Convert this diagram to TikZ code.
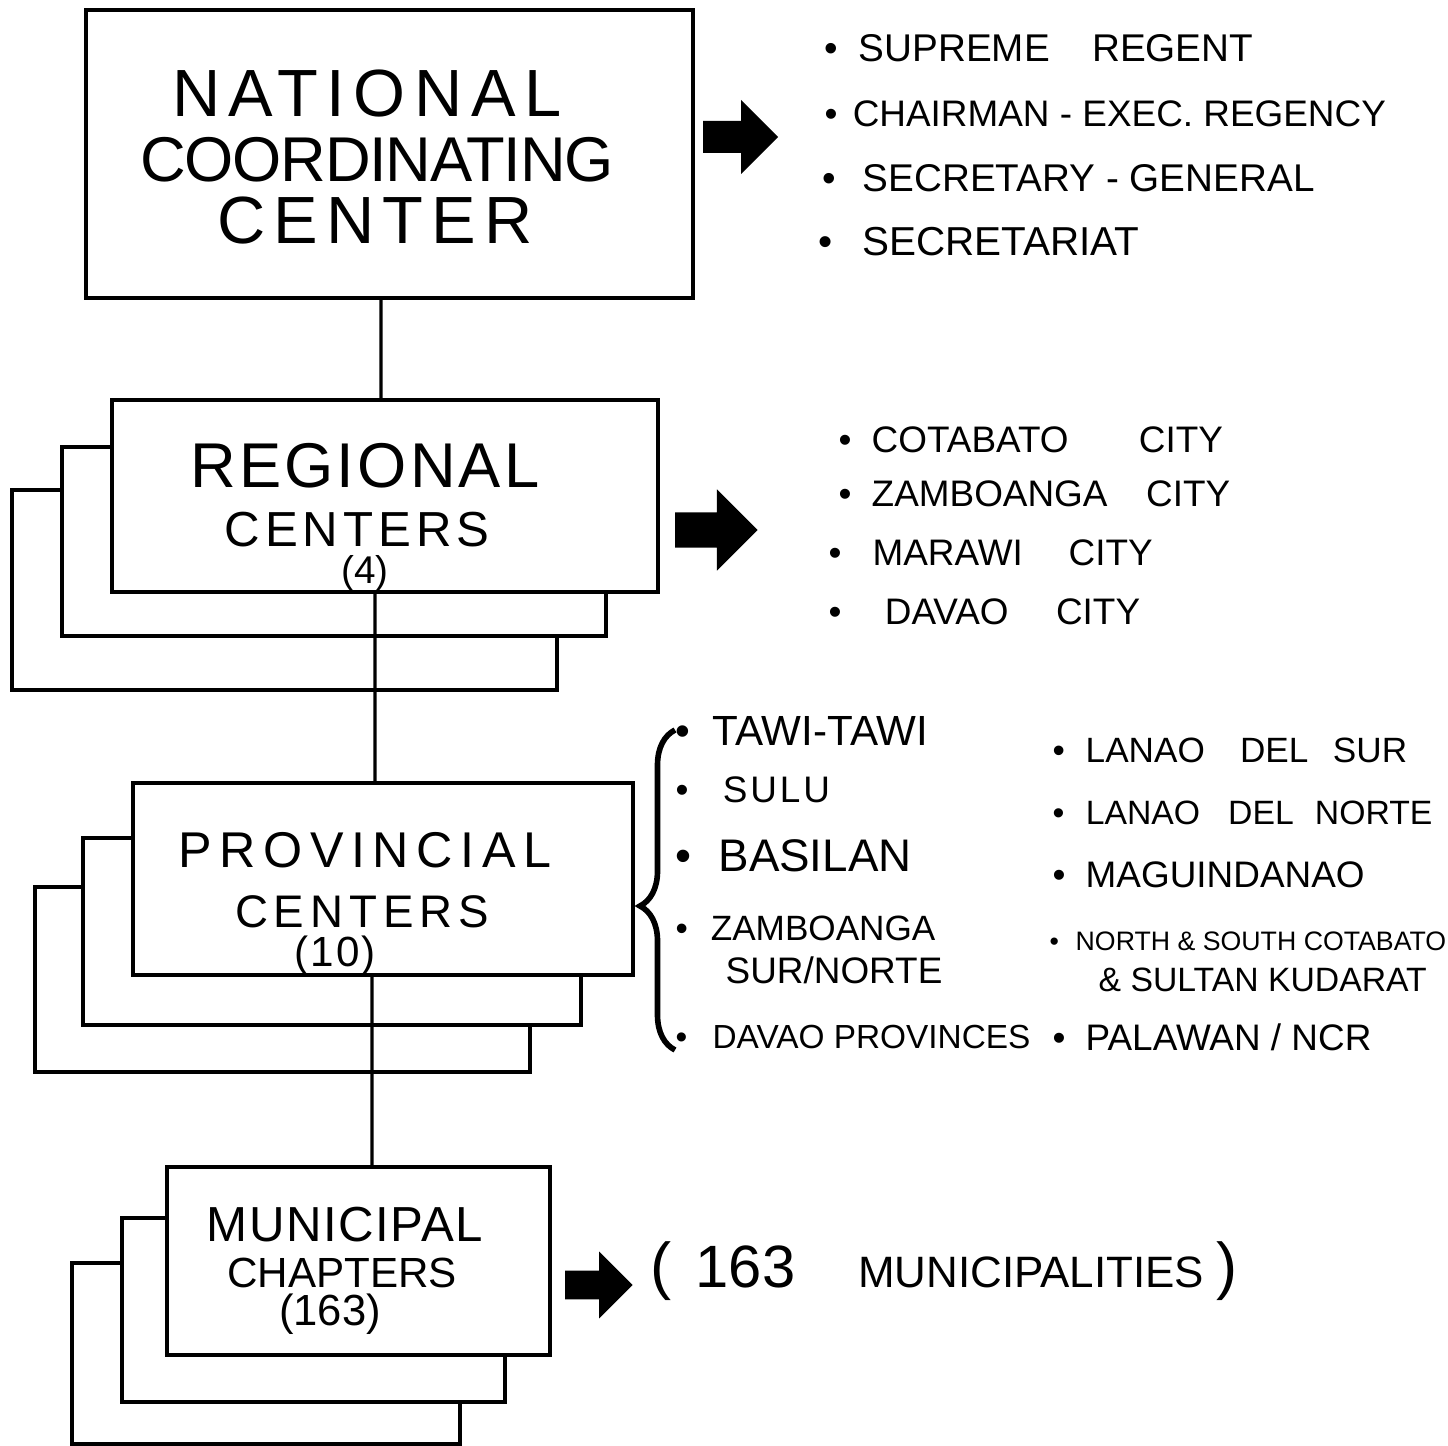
\documentclass[tikz,border=0pt]{standalone}
\usepackage{fontspec}
\setmainfont{Liberation Sans}
\usetikzlibrary{positioning,decorations.pathreplacing}

\newcommand\fsz[1]{\fontsize{#1}{#1}\selectfont}
\newcommand\spaced[2]{{\addfontfeature{LetterSpace=#1}#2}}
\newcommand\bul[1]{\makebox[#1][l]{•}}

\begin{document}
\begin{tikzpicture}[x=0.1mm,y=-0.1mm,
                    box/.style={draw,fill=white,line width=1.2pt,inner sep=0pt},
                    title/.style={anchor=base,inner sep=0pt},
                    item/.style={anchor=base west,inner sep=0pt},
                    link/.style={line width=0.9pt},
                    fatarrow/.pic={\fill (0,-16) -- (38,-16) -- (38,-37) -- (75,0) -- (38,37) -- (38,16) -- (0,16) -- cycle;}]

\useasboundingbox (0,0) rectangle (1448,1446);

\node[box, minimum width=60.7mm, minimum height=28.8mm] (national) at (389.5,154) {};

\node[box, minimum width=54.5mm, minimum height=20mm] (regional3) at (284.5,590) {};
\node[box, minimum width=54.4mm, minimum height=18.9mm] (regional2) at (334,541.5) {};
\node[box, minimum width=54.6mm, minimum height=19.2mm] (regional) at (385,496) {};

\node[box, minimum width=49.5mm, minimum height=18.5mm] (provincial3) at (282.5,979.5) {};
\node[box, minimum width=49.8mm, minimum height=18.7mm] (provincial2) at (332,931.5) {};
\node[box, minimum width=50mm, minimum height=19.2mm] (provincial) at (383,879) {};

\node[box, minimum width=38.8mm, minimum height=18.1mm] (municipal3) at (266,1353.5) {};
\node[box, minimum width=38.3mm, minimum height=18.4mm] (municipal2) at (313.5,1310) {};
\node[box, minimum width=38.3mm, minimum height=18.8mm] (municipal) at (358.5,1261) {};

\draw[link] ([xshift=-0.85mm]national.south) -- ([xshift=-0.4mm]regional.north);
\draw[link] ([xshift=-1mm]regional.south) -- ([xshift=-0.8mm]provincial.north);
\draw[link] ([xshift=-1.1mm]provincial.south) -- ([xshift=1.35mm]municipal.north);

\node[title, font=\fsz{19}] (nat1) at (367,117) {\spaced{13}{NATIONAL}};
\node[title, font=\fsz{18}] (nat2) at (377,182) {\spaced{-2}{COORDINATING}};
\node[title, font=\fsz{19}] (nat3) at (375,244) {\spaced{12}{CENTER}};

\node[title, font=\fsz{18}] (reg1) at (365,488) {\spaced{5}{REGIONAL}};
\node[title, font=\fsz{14}] (reg2) at (357,547) {\spaced{10}{CENTERS}};
\node[title, font=\fsz{11}] (reg3) at (365,584) {(4)};

\node[title, font=\fsz{14.3}] (prov1) at (365,868) {\spaced{15}{PROVINCIAL}};
\node[title, font=\fsz{13}] (prov2) at (362,928) {\spaced{13}{CENTERS}};
\node[title, font=\fsz{12}] (prov3) at (335,966) {\spaced{5}{(10)}};

\node[title, font=\fsz{14}] (mun1) at (345,1241) {\spaced{3}{MUNICIPAL}};
\node[title, font=\fsz{12}] (mun2) at (342,1287) {CHAPTERS};
\node[title, font=\fsz{12.4}] (mun3) at (330,1325) {(163)};

\pic (natarrow) at (703,137) {fatarrow};
\pic[scale=1.1] (regarrow) at (675,530) {fatarrow};
\pic[scale=0.9] (munarrow) at (565,1285) {fatarrow};

\node[item, font=\fsz{11}] (natlist1) at (824,62) {\bul{9.7pt}SUPREME\hspace{12pt}REGENT};
\node[item, font=\fsz{10.5}] (natlist2) at (824,127) {\bul{8pt}CHAIRMAN - EXEC. REGENCY};
\node[item, font=\fsz{11}] (natlist3) at (822,192) {\bul{11.4pt}SECRETARY - GENERAL};
\node[item, font=\fsz{11.5}] (natlist4) at (818,256) {\bul{12.5pt}SECRETARIAT};

\node[item, font=\fsz{10.5}] (reglist1) at (838,453) {\bul{9.4pt}COTABATO\hspace{20pt}CITY};
\node[item, font=\fsz{10.5}] (reglist2) at (838,507) {\bul{9.4pt}ZAMBOANGA\hspace{11pt}CITY};
\node[item, font=\fsz{10.5}] (reglist3) at (828,566) {\bul{12.5pt}MARAWI\hspace{13pt}CITY};
\node[item, font=\fsz{10.5}] (reglist4) at (828,625) {\bul{16pt}DAVAO\hspace{13.5pt}CITY};

\draw[line width=1.6pt, decorate, decoration={brace, amplitude=3.5mm, aspect=0.45}] (675,1050) -- (675,730);

\node[item, font=\fsz{12}] (provleft1) at (675,746) {\bul{10.5pt}TAWI-TAWI};
\node[item, font=\fsz{10.5}] (provleft2) at (675,803) {\bul{13.4pt}\spaced{8}{SULU}};
\node[item, font=\fsz{13}] (provleft3) at (675,872) {\bul{12.2pt}BASILAN};
\node[item, font=\fsz{10}] (provleft4) at (675,940) {\bul{10pt}ZAMBOANGA};
\node[item, font=\fsz{10.5}] (provleft5) at (725,983) {SUR/NORTE};
\node[item, font=\fsz{9.5}] (provleft6) at (675,1048) {\bul{10.5pt}DAVAO PROVINCES};

\node[item, font=\fsz{10}] (provright1) at (1052,763) {\bul{9.4pt}LANAO\hspace{10pt}DEL\hspace{7pt}SUR};
\node[item, font=\fsz{9.6}] (provright2) at (1052,825) {\bul{9.4pt}LANAO\hspace{8pt}DEL\hspace{6pt}NORTE};
\node[item, font=\fsz{10.5}] (provright3) at (1052,888) {\bul{9.4pt}MAGUINDANAO};
\node[item, font=\fsz{7.6}] (provright4) at (1049,950) {\bul{7.4pt}NORTH \& SOUTH COTABATO};
\node[item, font=\fsz{9.6}] (provright5) at (1098,991) {\& SULTAN KUDARAT};
\node[item, font=\fsz{10.5}] (provright6) at (1052,1050) {\bul{9.4pt}PALAWAN / NCR};

\node[item] (munlist) at (650,1287) {{\fsz{18}(}\hspace{6.8pt}{\fsz{17}163}\hspace{17.9pt}{\fsz{12.5}MUNICIPALITIES}\hspace{3.4pt}{\fsz{18})}};

\end{tikzpicture}
\end{document}
